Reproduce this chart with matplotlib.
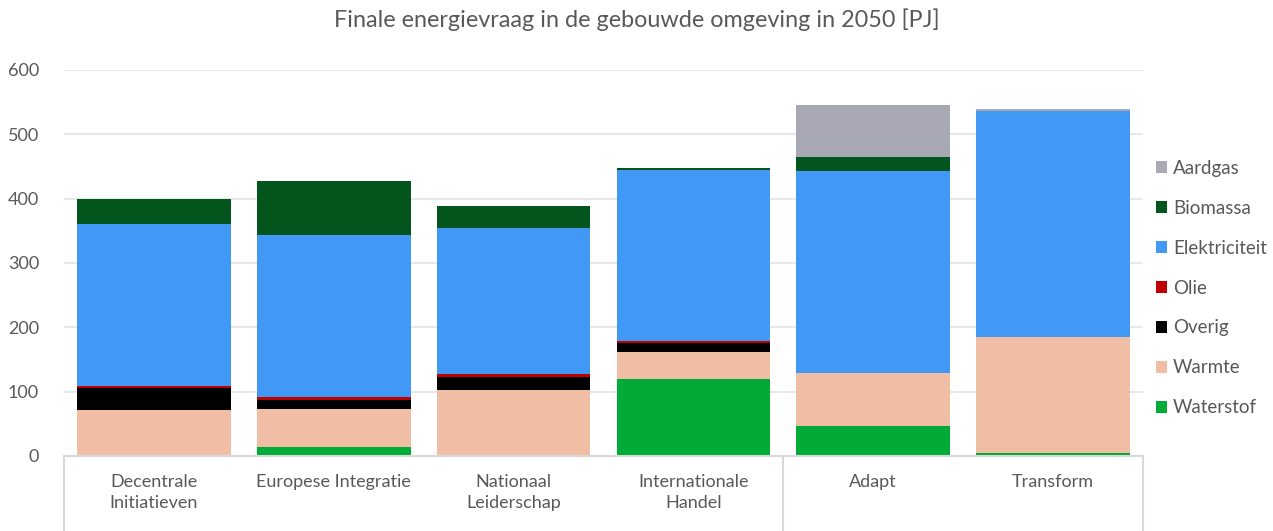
import matplotlib
matplotlib.use("Agg")
import matplotlib.pyplot as plt
import numpy as np

plt.rcParams['font.family'] = ['Lato', 'DejaVu Sans']

# scenarios (x-axis) and energy carriers (stack order, bottom to top)
scenarios = ["Decentrale\nInitiatieven", "Europese Integratie", "Nationaal\nLeiderschap",
             "Internationale\nHandel", "Adapt", "Transform"]
waterstof = [0, 14, 0, 120, 47, 5]
warmte = [72, 59, 103, 42, 82, 180]
overig = [34, 14, 20, 13, 0, 0]
olie = [3, 5, 4, 3, 0, 0]
elektriciteit = [252, 252, 228, 266, 314, 351]
biomassa = [39, 83, 34, 4, 22, 0]
aardgas = [0, 0, 0, 0, 81, 3]

series = [("Waterstof", waterstof, "#02ab38"),
          ("Warmte", warmte, "#f0bea4"),
          ("Overig", overig, "#000000"),
          ("Olie", olie, "#c00000"),
          ("Elektriciteit", elektriciteit, "#4198f5"),
          ("Biomassa", biomassa, "#02561d"),
          ("Aardgas", aardgas, "#a9a8b5")]

text_col = "#595959"
fig = plt.figure(figsize=(12.73, 5.31), dpi=100)
ax = fig.add_axes([64 / 1273, 1 - 456 / 531, (1143 - 64) / 1273, (456 - 70) / 531])

x = np.arange(len(scenarios))
bottom = np.zeros(len(scenarios))
handles = []
for name, vals, color in series:
    vals = np.array(vals, dtype=float)
    b = ax.bar(x, vals, width=0.855, bottom=bottom, color=color, label=name,
               linewidth=0, zorder=3)
    handles.append(b)
    bottom += vals

ax.set_xlim(-0.5, len(scenarios) - 0.5)
ax.set_ylim(0, 600)
ax.set_yticks(range(0, 601, 100))
ax.tick_params(axis="y", length=0, labelsize=13, labelcolor=text_col, pad=18)
ax.tick_params(axis="x", length=0, labelbottom=False)
ax.grid(axis="y", color="#e8e8e8", linewidth=1.5, zorder=0)
for s in ["top", "right", "left", "bottom"]:
    ax.spines[s].set_visible(False)

# category labels under the axis
for i, lab in enumerate(scenarios):
    ax.text(i, -0.047, lab, transform=ax.get_xaxis_transform(), ha="center", va="top",
            fontsize=13, color=text_col, linespacing=1.35)

# group box lines below the axis
line_kw = dict(color="#d9d9d9", linewidth=1.5, clip_on=False, zorder=5)
ax.plot([-0.5, 5.5], [0, 0], **line_kw)
ybot = -(531 - 456) / (456 - 70) * 600
for xv in [-0.5, 3.5, 5.5]:
    ax.plot([xv, xv], [0, ybot], **line_kw)

leg = ax.legend(handles[::-1], [h.get_label() for h in handles[::-1]],
                loc="center left", bbox_to_anchor=(1.005, 0.435), frameon=False,
                fontsize=13.5, labelcolor=text_col, handlelength=0.6, handleheight=0.6,
                handletextpad=0.3, labelspacing=1.22, borderaxespad=0)

fig.text(0.5, 1 - 20 / 531, "Finale energievraag in de gebouwde omgeving in 2050 [PJ]",
         ha="center", va="center", fontsize=16.8, color=text_col)

fig.savefig("out.png", dpi=100)
